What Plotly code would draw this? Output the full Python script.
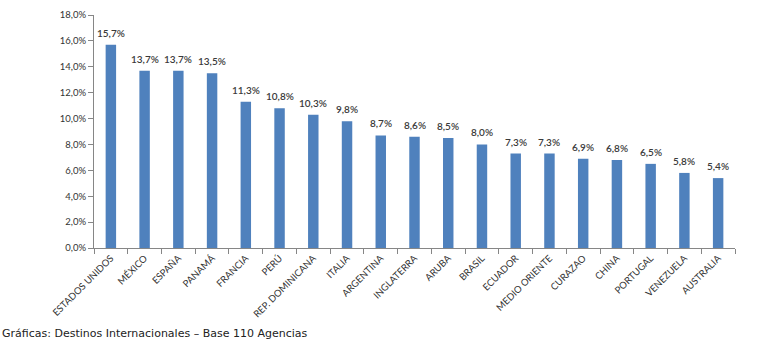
import plotly.graph_objects as go

categories = ["ESTADOS UNIDOS", "MÉXICO", "ESPAÑA", "PANAMÁ", "FRANCIA", "PERÚ",
              "REP. DOMINICANA", "ITALIA", "ARGENTINA", "INGLATERRA", "ARUBA", "BRASIL",
              "ECUADOR", "MEDIO ORIENTE", "CURAZAO", "CHINA", "PORTUGAL", "VENEZUELA",
              "AUSTRALIA"]
values = [15.7, 13.7, 13.7, 13.5, 11.3, 10.8, 10.3, 9.8, 8.7, 8.6, 8.5, 8.0,
          7.3, 7.3, 6.9, 6.8, 6.5, 5.8, 5.4]
y_ticks = [0, 2, 4, 6, 8, 10, 12, 14, 16, 18]
y_tick_labels = ["0,0%", "2,0%", "4,0%", "6,0%", "8,0%", "10,0%", "12,0%", "14,0%", "16,0%", "18,0%"]
caption = "Gráficas: Destinos Internacionales – Base 110 Agencias"

fig = go.Figure(go.Bar(
    x=categories, y=values,
    marker=dict(color="#4F81BD", line=dict(width=0)),
    showlegend=False,
))

value_labels = [
    dict(x=c, y=v, xref="x", yref="y", text=f"{v:.1f}%".replace(".", ","),
         showarrow=False, yanchor="bottom", yshift=4,
         font=dict(family="Lato", size=10, color="#3a3a3a", weight=600))
    for c, v in zip(categories, values)
]

fig.update_layout(
    width=784, height=349,
    margin=dict(l=94, r=49, t=9, b=101),
    paper_bgcolor="white", plot_bgcolor="white",
    separators=",.",
    bargap=0.69,
    showlegend=False,
    font=dict(family="Lato", size=9, color="#333333"),
    annotations=value_labels + [
        dict(text=caption, xref="paper", yref="paper", x=-94/641, y=-88/239,
             xanchor="left", yanchor="middle", showarrow=False,
             font=dict(family="DejaVu Sans", size=11, color="#222222"))],
)
fig.update_xaxes(
    range=[-0.5, len(categories) - 0.5],
    showline=True, linecolor="#868686", linewidth=1,
    ticks="outside", ticklen=5, tickcolor="#868686", tickson="boundaries",
    tickangle=-45, tickfont=dict(family="Lato", size=9.5, color="#333333"),
    showgrid=False,
)
fig.update_yaxes(
    range=[0, 18], tickvals=y_ticks, ticktext=y_tick_labels,
    showline=True, linecolor="#868686", linewidth=1,
    ticks="outside", ticklen=5, tickcolor="#868686",
    tickfont=dict(family="Lato", size=9.5, color="#333333"),
    showgrid=False, zeroline=False,
)

fig.write_html("out.html")
